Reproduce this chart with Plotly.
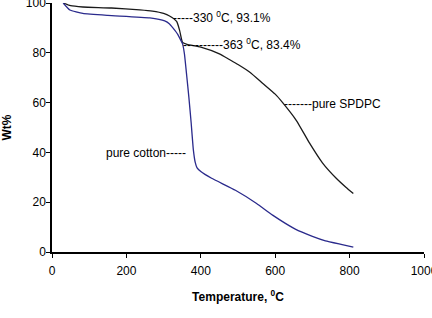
import plotly.graph_objects as go

# Pure SPDPC
spdpc_T = [30, 50, 83, 160, 236, 270, 300, 316, 335, 343, 348, 351, 363, 400, 450, 477, 500, 531, 566, 600, 620, 657, 692, 727, 764, 790, 810]
spdpc_W = [100, 98.9, 98.4, 98.0, 97.2, 96.7, 95.8, 94.8, 92.6, 89.0, 85.6, 84.2, 83.4, 82.3, 79.6, 77.3, 75.3, 72.3, 67.8, 63.4, 60.0, 52.8, 43.8, 35.8, 29.6, 26.0, 23.5]

# Pure cotton
cotton_T = [30, 48, 83, 150, 263, 303, 316, 325, 338, 343, 351, 356, 362, 368, 374, 380, 385, 390, 400, 429, 493, 550, 593, 654, 700, 735, 780, 810]
cotton_W = [100, 97.2, 95.8, 95.0, 94.0, 92.8, 91.6, 90.0, 87.4, 86.0, 83.6, 79.6, 71.0, 62.0, 52.0, 41.0, 36.0, 33.8, 32.3, 29.6, 24.8, 19.5, 14.8, 9.2, 6.3, 4.5, 3.0, 2.0]

x_ticks = [0, 200, 400, 600, 800, 1000]
y_ticks = [0, 20, 40, 60, 80, 100]

FONT = "Liberation Sans, Arial, sans-serif"

fig = go.Figure()
fig.add_trace(go.Scatter(x=spdpc_T, y=spdpc_W, mode="lines",
                         line=dict(color="#1a1a1a", width=1.3, shape="spline", smoothing=0.5),
                         showlegend=False))
fig.add_trace(go.Scatter(x=cotton_T, y=cotton_W, mode="lines",
                         line=dict(color="#2a2a8c", width=1.3, shape="spline", smoothing=0.4),
                         showlegend=False))

ann_font = dict(family=FONT, size=12, color="#000")
annotations = [
    dict(x=322, y=94.2, text="-----330 <sup>0</sup>C, 93.1%", xanchor="left"),
    dict(x=349, y=83.6, text="----------363 <sup>0</sup>C, 83.4%", xanchor="left"),
    dict(x=622, y=59.6, text="-------pure SPDPC", xanchor="left"),
    dict(x=364, y=39.6, text="pure cotton-----", xanchor="right"),
]
for a in annotations:
    fig.add_annotation(xref="x", yref="y", showarrow=False, yanchor="middle",
                       font=ann_font, borderpad=0, **a)

fig.update_layout(
    width=432, height=318,
    margin=dict(l=52, r=8, t=3, b=66, autoexpand=False),
    paper_bgcolor="white", plot_bgcolor="white",
    font=dict(family=FONT, size=12, color="#000"),
)
fig.update_xaxes(range=[0, 1000], tickvals=x_ticks, showgrid=False, zeroline=False,
                 showline=True, linecolor="#000", linewidth=1.5, automargin=False,
                 ticks="outside", ticklen=4, tickcolor="#000", ticklabeloverflow="allow",
                 ticklabelstandoff=3,
                 title=dict(text="<b>Temperature, <sup>0</sup>C</b>", font=dict(size=12), standoff=15))
fig.update_yaxes(range=[0, 100], tickvals=y_ticks, showgrid=False, zeroline=False,
                 showline=True, linecolor="#000", linewidth=1.5, automargin=False,
                 ticks="outside", ticklen=4, tickcolor="#000", ticklabeloverflow="allow",
                 ticklabelstandoff=-2,
                 title=dict(text="<b>Wt%</b>", font=dict(size=12), standoff=12))

fig.write_html("out.html")
